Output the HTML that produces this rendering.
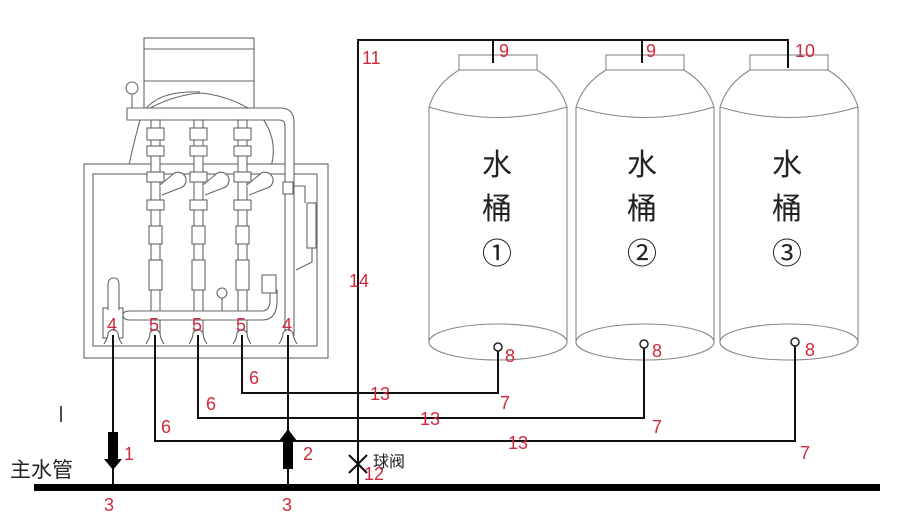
<!DOCTYPE html>
<html><head><meta charset="utf-8"><style>
html,body{margin:0;padding:0;background:#fff;}
svg{display:block;}
.r{fill:#d2283c;font-family:"Liberation Sans",sans-serif;font-size:18px;}
.t{font-family:"Liberation Sans","Noto Sans CJK SC",sans-serif;fill:#222;}
</style></head><body>
<svg width="912" height="529" viewBox="0 0 912 529" xmlns="http://www.w3.org/2000/svg">
<rect width="912" height="529" fill="#fff"/>
<g fill="#fff" stroke="#666" stroke-width="1.1">
  <rect x="144" y="38" width="110" height="70"/>
  <line x1="144" y1="49" x2="254" y2="49"/>
  <line x1="144" y1="81" x2="254" y2="81"/>
  <path d="M150 108 Q175 95 200 93 Q225 95 248 108" fill="none"/>
  <path d="M112 340 Q112 220 140 120 Q150 90 200 92" fill="none"/>
  <path d="M260 115 Q280 140 270 170 Q275 200 300 220" fill="none"/>
  <rect x="84" y="164" width="244" height="194"/>
  <rect x="93" y="174" width="224" height="172"/>
  <path d="M127 108 H280 Q294 108 294 122 V335 H285 V126 Q285 120 279 120 H127 Z"/>
  <line x1="132" y1="93" x2="132" y2="108"/>
  <circle cx="132" cy="88" r="6"/>
  <g>
    <rect x="151" y="120" width="9" height="215"/>
    <rect x="194" y="120" width="9" height="215"/>
    <rect x="238" y="120" width="9" height="215"/>
    <rect x="147" y="128" width="17" height="12"/><rect x="190" y="128" width="17" height="12"/><rect x="234" y="128" width="17" height="12"/>
    <rect x="147" y="146" width="17" height="10"/><rect x="190" y="146" width="17" height="10"/><rect x="234" y="146" width="17" height="10"/>
    <rect x="147" y="172" width="17" height="10"/><rect x="190" y="172" width="17" height="10"/><rect x="234" y="172" width="17" height="10"/>
    <rect x="147" y="200" width="17" height="10"/><rect x="190" y="200" width="17" height="10"/><rect x="234" y="200" width="17" height="10"/>
    <rect x="149" y="226" width="13" height="18"/><rect x="192" y="226" width="13" height="18"/><rect x="236" y="226" width="13" height="18"/>
    <rect x="149" y="260" width="13" height="30"/><rect x="192" y="260" width="13" height="30"/><rect x="236" y="260" width="13" height="30"/>
    <path d="M160 185 L172 175 A8 8 0 1 1 180 188 L162 195"/>
    <path d="M203 185 L215 175 A8 8 0 1 1 223 188 L205 195"/>
    <path d="M247 185 L259 175 A8 8 0 1 1 267 188 L249 195"/>
  </g>
  <path d="M130 311 H262 Q270 311 270 300 V290 H277 V301 Q277 320 262 320 H130 Q123 320 123 315 Q123 311 130 311 Z"/>
  <rect x="103" y="308" width="20" height="30"/>
  <path d="M108 310 V285 Q108 278 114 278 Q119 278 119 285 V310"/>
  <rect x="262" y="275" width="14" height="18"/>
  <line x1="222" y1="298" x2="222" y2="311"/>
  <circle cx="222" cy="293" r="5"/>
  <rect x="283" y="182" width="10" height="12"/>
  <path d="M293 186 H305 V203" fill="none"/>
  <rect x="307" y="203" width="9" height="45"/>
  <path d="M312 248 V262 L296 270" fill="none"/>
</g>
<g fill="#fff" stroke="#555" stroke-width="1">
  <path d="M104 344 Q108 338 108 333 Q113 326 118 333 Q118 338 122 344"/>
  <path d="M146 344 Q150 338 150 333 Q155 326 160 333 Q160 338 164 344"/>
  <path d="M189 344 Q193 338 193 333 Q198 326 203 333 Q203 338 207 344"/>
  <path d="M233 344 Q237 338 237 333 Q242 326 247 333 Q247 338 251 344"/>
  <path d="M279 344 Q283 338 283 333 Q288 326 293 333 Q293 338 297 344"/>
</g>
<g fill="#d2283c" font-family="Liberation Sans,sans-serif" font-size="18">
  <text x="107" y="331">4</text><text x="149" y="331">5</text><text x="192" y="331">5</text><text x="236" y="331">5</text><text x="282" y="331">4</text>
</g>
<g fill="#fff" stroke="#888" stroke-width="1.1">
  <g id="tk">
  <rect x="459" y="55" width="78" height="15"/>
  <path d="M459 70 Q436 84 429 107 V342 M537 70 Q560 84 567 107 V342"/>
  <path d="M429 107 Q498 128 567 107" fill="none"/>
  <ellipse cx="498" cy="342" rx="69" ry="18"/>
  </g>
  <use href="#tk" x="147"/>
  <use href="#tk" x="291"/>
</g>
<g class="t" font-size="30" text-anchor="middle">
  <text x="497" y="175">水</text><text x="497" y="219">桶</text><text x="497" y="264">①</text>
  <text x="642" y="175">水</text><text x="642" y="219">桶</text><text x="642" y="264">②</text>
  <text x="787" y="175">水</text><text x="787" y="219">桶</text><text x="787" y="264">③</text>
</g>
<g fill="none" stroke="#111" stroke-width="2">
  <line x1="358" y1="40" x2="358" y2="485"/>
  <polyline points="357,40 788,40 788,68"/>
  <line x1="493" y1="40" x2="493" y2="63"/>
  <line x1="642" y1="40" x2="642" y2="63"/>
  <polyline points="242,335 242,393 498,393 498,351"/>
  <polyline points="198,335 198,418 644,418 644,348"/>
  <polyline points="155,335 155,441 795,441 795,346"/>
  <line x1="113" y1="335" x2="113" y2="485"/>
  <line x1="288" y1="335" x2="288" y2="485"/>
  <line x1="349" y1="455" x2="367" y2="473"/>
  <line x1="367" y1="455" x2="349" y2="473"/>
</g>
<g fill="#fff" stroke="#222" stroke-width="1.5">
  <circle cx="498" cy="347" r="4"/><circle cx="644" cy="344" r="4"/><circle cx="795" cy="342" r="4"/>
</g>
<rect x="34" y="484" width="846" height="7" fill="#000"/>
<rect x="108" y="432" width="10" height="28" fill="#000"/>
<polygon points="104,459 122,459 113,470" fill="#000"/>
<rect x="283" y="440" width="10" height="29" fill="#000"/>
<polygon points="279,441 297,441 288,429" fill="#000"/>
<line x1="61" y1="406" x2="61" y2="422" stroke="#111" stroke-width="1.5"/>
<g class="r">
  <text x="362" y="64">11</text>
  <text x="499" y="57">9</text><text x="646" y="57">9</text><text x="795" y="57">10</text>
  <text x="349" y="287">14</text>
  <text x="505" y="362">8</text><text x="652" y="357">8</text><text x="805" y="356">8</text>
  <text x="249" y="384">6</text><text x="206" y="410">6</text><text x="161" y="433">6</text>
  <text x="370" y="400">13</text><text x="420" y="425">13</text><text x="508" y="449">13</text>
  <text x="500" y="409">7</text><text x="652" y="433">7</text><text x="800" y="459">7</text>
  <text x="124" y="460">1</text><text x="303" y="460">2</text>
  <text x="364" y="480">12</text>
  <text x="104" y="511">3</text><text x="282" y="511">3</text>
</g>
<text class="t" x="10" y="477" font-size="21">主水管</text>
<text class="t" x="373" y="467" font-size="16">球阀</text>
</svg>
</body></html>
